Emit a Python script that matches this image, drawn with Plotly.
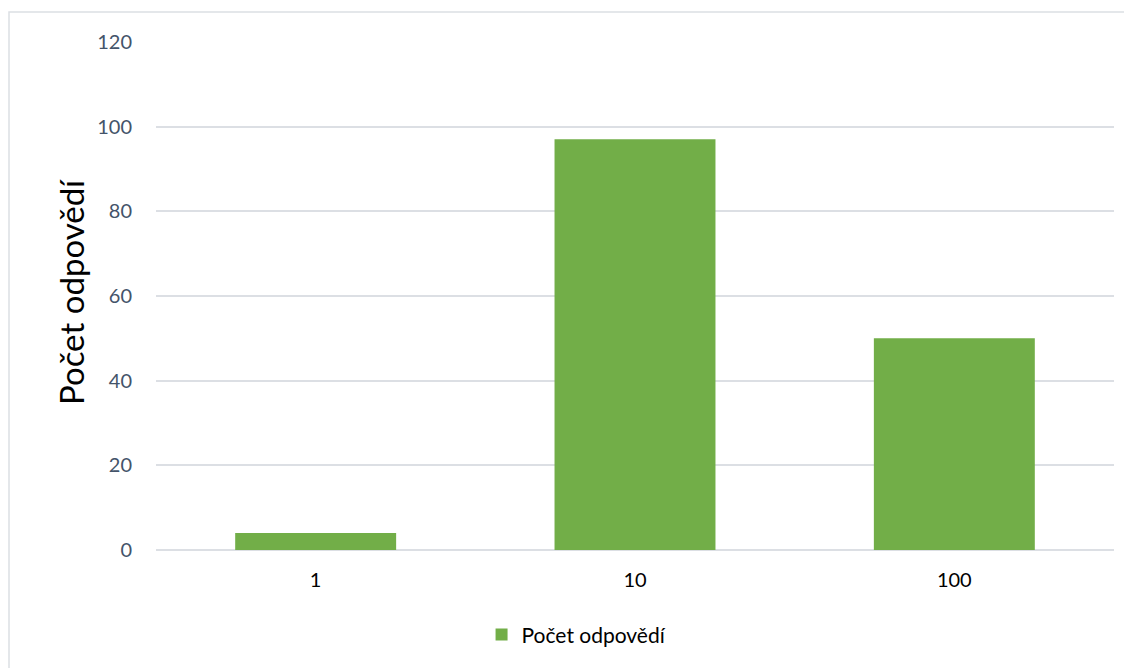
import plotly.graph_objects as go

categories = ["1", "10", "100"]
values = [4, 97, 50]
series_name = "Počet odpovědí"
y_title = "Počet odpovědí"
y_ticks = [0, 20, 40, 60, 80, 100, 120]

fig = go.Figure()
fig.add_trace(go.Bar(
    x=categories, y=values, name=series_name,
    marker=dict(color="#72AE48", line=dict(width=0)),
    showlegend=True,
))

# page body has an 8px margin, so the figure is offset by 8px in x and y
fig.update_layout(
    width=1132, height=668,
    margin=dict(l=148, r=26, t=34, b=126),
    paper_bgcolor="white", plot_bgcolor="white",
    bargap=0.496,
    font=dict(family="Lato, Open Sans, sans-serif", color="#000000"),
    showlegend=True,
    legend=dict(orientation="h", x=0.439, xanchor="center", y=-0.167, yanchor="middle",
                font=dict(size=21, color="#000000")),
    xaxis=dict(type="category", showgrid=False, showline=False, ticks="",
               tickfont=dict(size=20, color="#000000"), ticklabelstandoff=16),
    yaxis=dict(range=[0, 120], tickvals=y_ticks, showgrid=True, gridcolor="#DCDFE4",
               gridwidth=1.5, zeroline=True, zerolinecolor="#DCDFE4", zerolinewidth=1.5,
               showline=False, ticks="",
               tickfont=dict(size=20, color="#44546A"), ticklabelstandoff=23),
    annotations=[dict(text=y_title, textangle=-90, xref="paper", yref="paper",
                      x=(71 - 156) / 958, y=(550 - 292) / 508, xanchor="center", yanchor="middle",
                      showarrow=False, font=dict(size=33, color="#000000"))],
    shapes=[dict(type="rect", xref="paper", yref="paper",
                 x0=(9 - 156) / 958, x1=(1140 - 156) / 958,
                 y0=(550 - 680) / 508, y1=(550 - 12) / 508,
                 line=dict(color="#DCDFE4", width=1.5), fillcolor="rgba(0,0,0,0)", layer="below")],
)

fig.write_html("out.html")
